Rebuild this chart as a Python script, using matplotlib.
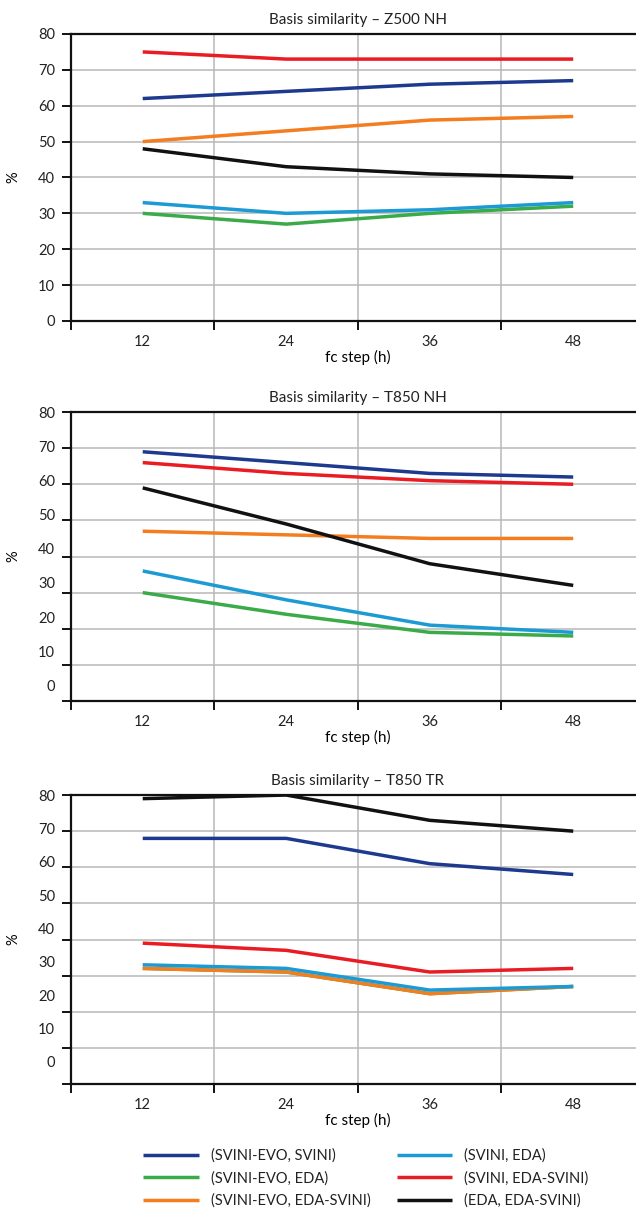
import matplotlib
matplotlib.use('Agg')
import matplotlib.pyplot as plt
import matplotlib.transforms as mtransforms

# forecast steps on the x axis
fc_steps = ['12', '24', '36', '48']

series_names = ['(SVINI-EVO, SVINI)', '(SVINI-EVO, EDA)', '(SVINI-EVO, EDA-SVINI)',
                '(SVINI, EDA)', '(SVINI, EDA-SVINI)', '(EDA, EDA-SVINI)']
series_colors = ['#1d3a8f', '#3aab48', '#f47d20', '#1c9ad3', '#e91c24', '#111111']

# one row per series, in the order of series_names
z500_nh = [[62, 64, 66, 67],
           [30, 27, 30, 32],
           [50, 53, 56, 57],
           [33, 30, 31, 33],
           [75, 73, 73, 73],
           [48, 43, 41, 40]]

t850_nh = [[69, 66, 63, 62],
           [30, 24, 19, 18],
           [47, 46, 45, 45],
           [36, 28, 21, 19],
           [66, 63, 61, 60],
           [59, 49, 38, 32]]

t850_tr = [[68, 68, 61, 58],
           [32, 31, 25, 27],
           [32, 31, 25, 27],
           [33, 32, 26, 27],
           [39, 37, 31, 32],
           [79, 80, 73, 70]]

panel_titles = ['Basis similarity \u2013 Z500 NH', 'Basis similarity \u2013 T850 NH',
                'Basis similarity \u2013 T850 TR']
panel_data = [z500_nh, t850_nh, t850_tr]
y_ticks = [0, 10, 20, 30, 40, 50, 60, 70, 80]

# the y labels in the lower panels creep upwards in the original (points per 10 %)
label_creep = [0, 1.4, 2.0]

plt.rcParams['font.family'] = ['Lato', 'DejaVu Sans']
plt.rcParams['font.size'] = 10.5
plt.rcParams['text.color'] = '#222222'
plt.rcParams['xtick.color'] = '#111111'
plt.rcParams['ytick.color'] = '#111111'
plt.rcParams['xtick.labelcolor'] = '#222222'
plt.rcParams['ytick.labelcolor'] = '#222222'

fig = plt.figure(figsize=(6.36, 12.09), dpi=100)
boxes = [[0.1116, 0.7345, 0.9025, 0.2374],
         [0.1116, 0.4202, 0.9025, 0.2390],
         [0.1116, 0.1034, 0.9025, 0.2390]]

x = list(range(len(fc_steps)))
handles = []
for box, title, data, creep in zip(boxes, panel_titles, panel_data, label_creep):
    ax = fig.add_axes(box)
    handles = []
    for vals, name, color in zip(data, series_names, series_colors):
        line, = ax.plot(x, vals, color=color, lw=2.5, label=name, solid_capstyle='butt')
        handles.append(line)

    ax.set_xlim(-0.5, 3.5)
    ax.set_ylim(0, 80)
    ax.set_yticks(y_ticks)
    ax.set_xticks(x)
    ax.set_xticklabels(fc_steps)
    ax.set_xticks([-0.5, 0.5, 1.5, 2.5, 3.5], minor=True)

    ax.set_axisbelow(True)
    ax.grid(axis='y', which='major', color='#b8b8b8', lw=1.1)
    ax.grid(axis='x', which='minor', color='#b8b8b8', lw=1.1)

    for side in ['left', 'bottom', 'top']:
        ax.spines[side].set_linewidth(1.6)
        ax.spines[side].set_color('#111111')
    ax.spines['right'].set_visible(False)

    ax.tick_params(axis='x', which='major', length=0, pad=10)
    ax.tick_params(axis='x', which='minor', length=6.5, width=1.4)
    ax.tick_params(axis='y', length=6.5, width=1.4, pad=5)

    ax.set_title(title, fontsize=11, pad=7)
    ax.set_xlabel('fc step (h)', labelpad=1, fontsize=11)
    ax.set_ylabel('%')
    ax.yaxis.set_label_coords(-0.089, 0.5)

    # shift each y label a little, more the lower it sits
    ticks = ax.yaxis.get_major_ticks(len(y_ticks))
    for tick, val in zip(ticks, y_ticks):
        dy = creep * (80 - val) / 10.0
        shift = mtransforms.ScaledTranslation(0, dy / 72.0, fig.dpi_scale_trans)
        tick.label1.set_transform(tick.label1.get_transform() + shift)

fig.legend(handles, series_names, ncol=2, loc='center', bbox_to_anchor=(0.575, 0.0255),
           frameon=False, handlelength=3.8, handletextpad=0.8, columnspacing=1.8,
           labelspacing=0.55, fontsize=10.5)

fig.savefig('out.png', dpi=100)
